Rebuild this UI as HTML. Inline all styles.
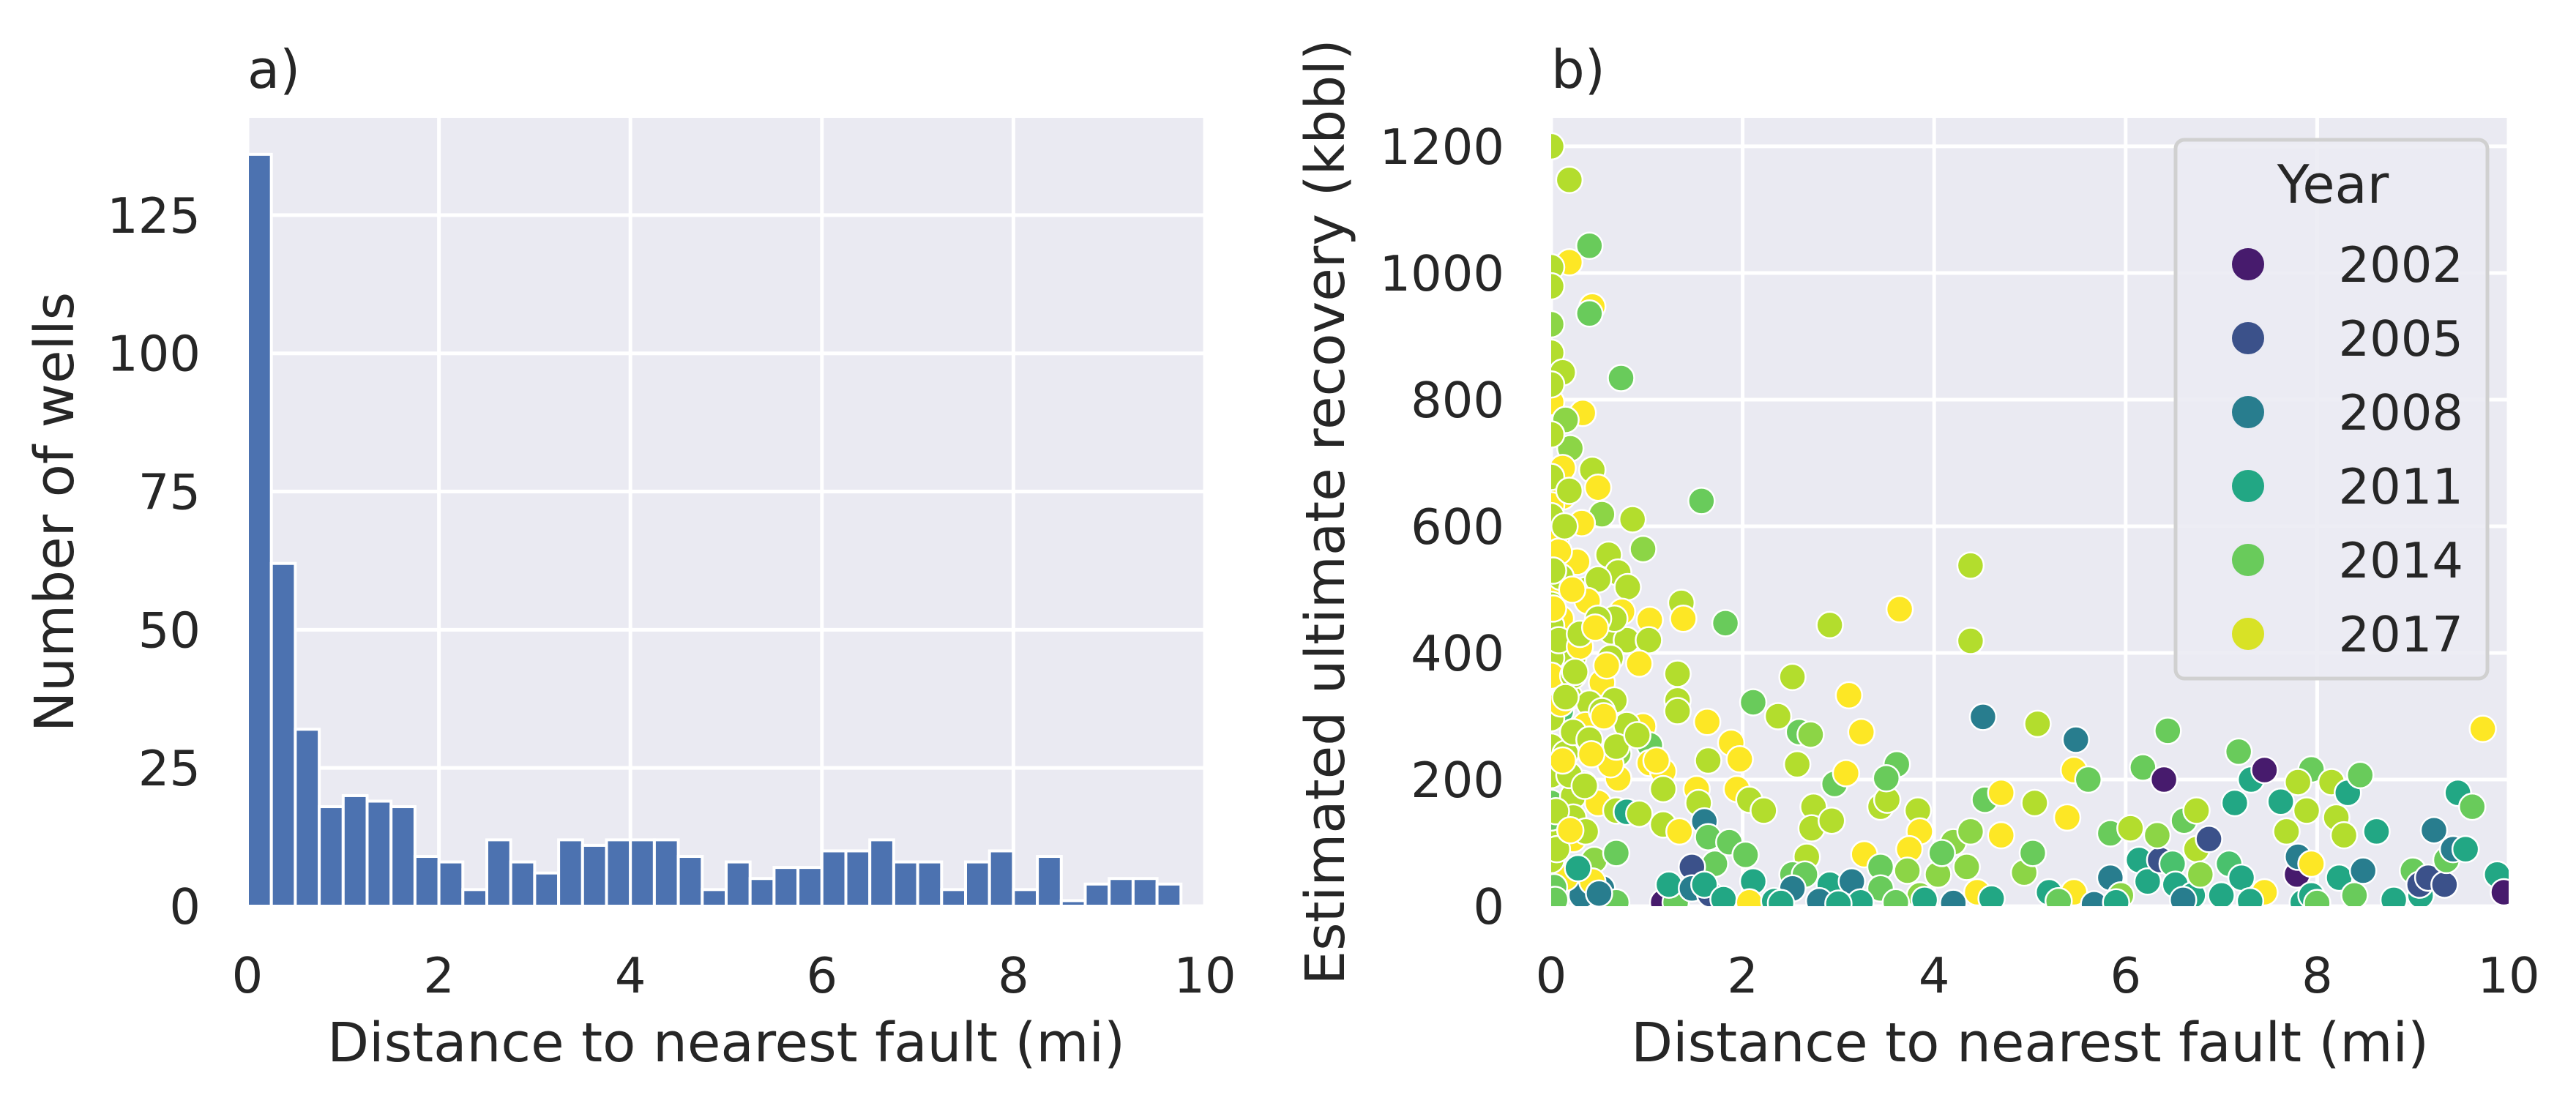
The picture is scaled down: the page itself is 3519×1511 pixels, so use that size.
<!DOCTYPE html>
<html><head><meta charset="utf-8"><style>
html,body{margin:0;padding:0;background:#fff;}
svg{display:block;}
text{font-family:"DejaVu Sans","Liberation Sans",sans-serif;fill:#262626;}
</style></head><body>
<svg id="fig" width="3519" height="1511" viewBox="0 0 3519 1511" xmlns="http://www.w3.org/2000/svg">
<g id="panelA"></g>
<g id="panelB"></g>
</svg>
<script>
// ---- Histogram data ----
const binWidth = 0.25;
const histCounts = [136,62,32,18,20,19,18,9,8,3,12,8,6,12,11,12,12,12,9,3,8,5,7,7,10,10,12,8,8,3,8,10,3,9,1,4,5,5,4];
const histYTicks = [0,25,50,75,100,125];
const xTicks = [0,2,4,6,8,10];
// ---- Scatter data (lines of 10, aligned across arrays) ----
const dist = [
0,0.19,0.4,0.19,0,0,0.43,0.40,0,0,
0.12,0.73,0,0.33,0.15,0.2,0.12,0.43,0.49,0.12,
0,0.53,0.32,0.85,1.57,0.96,0,0.27,0.6,0.36,
0.7,0.49,0.8,0.38,0.1,0,0.74,0.63,1.03,1.36,
1.38,1.82,2.91,3.64,4.38,4.38,0.79,1.02,0.92,0.23,
0,0,0.53,0.19,0.66,0.4,1.32,1.32,1.32,0.96,
1.63,0.36,0.1,2.52,2.11,2.37,3.11,3.24,2.59,2.71,
1.88,1.97,1.64,0.7,1.03,1.03,1.17,0.7,0.62,0.34,
0,0,0.23,0.49,0.68,0.79,0.92,1.17,1.17,1.34,
1.52,1.54,1.6,1.64,1.71,1.86,1.94,2.07,2.22,2.03,
2.11,2.57,2.96,3.08,2.74,2.72,2.67,2.93,2.52,2.65,
2.52,2.91,3.14,3.27,3.44,3.44,3.23,3.44,3.51,3.61,
3.5,3.83,3.85,3.74,3.72,3.85,4.04,4.2,4.08,4.38,
4.34,4.45,4.51,4.53,4.7,4.7,4.94,5.03,5.05,5.08,
5.2,5.46,5.39,5.46,5.48,5.61,5.67,5.84,5.84,5.95,
6.05,6.14,6.18,6.23,6.4,6.36,6.33,6.44,6.49,6.52,
6.61,6.7,6.74,6.74,6.78,6.87,7.0,7.08,7.14,7.21,
7.18,7.31,7.45,7.45,7.62,7.68,7.79,7.8,7.85,7.94,
7.94,7.8,7.89,7.94,8.15,8.2,8.28,8.32,8.23,8.39,
8.45,8.48,8.62,9.0,9.08,9.07,9.16,9.22,9.33,9.35,
9.47,9.42,9.55,9.62,9.73,9.88,9.95,1.17,1.3,1.23,
1.47,1.47,1.66,1.6,1.8,2.07,2.33,0.32,0.53,0.45,
0.68,0.68,0.15,0.43,0,0,0,0.23,0,0.23,
0,0.15,0,0.23,0.1,0.23,0,0,0,0,
0.19,0,0,0,0.66,0.49,0.62,0.53,0.79,0.68,
0.4,0.19,0.36,0.05,0.1,0.02,0.08,0.3,0.25,0.12,
0.05,0.42,0.35,0.55,0.9,1.1,0.03,0.06,0.2,0.28,
0.5,0.15,0.04,2.4,2.8,3.0,3.6,3.9,4.2,4.6,
5.3,5.9,6.6,7.3,8.0,8.8,0.08,0.14,0.22,0.3,
0.58,0.02,0.46];
const eur = [
1200,1147,1043,1017,1009,979,947,936,919,874,
843,834,796,779,768,723,692,689,661,647,
633,619,605,611,640,564,544,544,555,499,
527,516,504,482,454,443,465,434,452,479,
454,447,444,469,538,419,420,420,383,392,
392,364,353,331,325,320,367,325,308,284,
291,286,308,362,322,300,333,275,275,271,
258,232,230,241,254,226,213,202,224,193,
207,163,174,163,151,149,146,185,129,118,
185,163,134,109,67,101,185,168,151,81,
39,224,193,210,157,123,78,135,50,50,
28,34,39,82,62,28,6,157,168,224,
202,151,118,90,56,17,50,101,84,118,
62,22,299,168,179,112,53,84,163,288,
22,22,140,215,263,200,3,45,115,17,
123,73,219,39,200,73,112,277,67,34,
135,17,151,90,50,106,17,67,163,45,
244,200,215,22,165,118,50,78,6,67,
216,196,151,17,196,140,112,179,45,17,
207,56,118,56,17,34,45,120,34,73,
179,90,90,157,280,50,22,6,6,34,
62,28,19,34,11,6,8,17,28,73,
84,6,45,39,6,73,106,106,140,140,
252,241,297,275,320,364,499,476,616,678,
656,745,824,566,454,454,392,308,286,252,
263,207,118,580,520,470,420,410,370,230,
150,240,190,300,270,230,30,90,120,60,
20,330,10,5,8,4,6,10,5,12,
8,6,10,8,5,10,560,600,500,430,
380,530,440];
const year = [
2016,2016,2014,2018,2016,2016,2018,2014,2015,2016,
2016,2014,2018,2018,2015,2015,2018,2016,2018,2018,
2018,2015,2018,2016,2014,2015,2016,2018,2016,2016,
2016,2016,2016,2018,2018,2016,2018,2016,2018,2016,
2018,2014,2016,2018,2016,2016,2016,2016,2018,2016,
2016,2018,2018,2016,2016,2016,2016,2016,2016,2018,
2018,2018,2013,2016,2014,2016,2018,2018,2014,2015,
2018,2018,2016,2015,2014,2018,2018,2018,2018,2008,
2016,2014,2016,2018,2016,2011,2016,2016,2016,2018,
2018,2016,2008,2014,2014,2014,2018,2016,2016,2014,
2011,2016,2014,2018,2016,2016,2016,2016,2014,2014,
2008,2011,2008,2018,2014,2014,2011,2016,2016,2014,
2014,2016,2018,2018,2015,2015,2015,2015,2014,2015,
2015,2018,2008,2014,2018,2018,2015,2014,2016,2016,
2011,2018,2018,2018,2008,2014,2008,2008,2014,2015,
2016,2011,2014,2011,2002,2005,2015,2014,2013,2011,
2014,2011,2016,2016,2015,2005,2011,2013,2011,2011,
2014,2011,2002,2018,2011,2016,2002,2008,2011,2018,
2014,2016,2016,2011,2016,2016,2016,2011,2011,2014,
2014,2008,2011,2014,2011,2005,2005,2008,2005,2014,
2011,2008,2011,2014,2018,2011,2002,2002,2014,2011,
2005,2008,2005,2011,2011,2018,2011,2008,2008,2015,
2014,2014,2018,2018,2016,2016,2016,2018,2014,2016,
2016,2016,2016,2016,2018,2016,2018,2016,2016,2016,
2016,2016,2016,2016,2016,2016,2016,2016,2016,2016,
2016,2016,2016,2018,2016,2018,2016,2018,2016,2018,
2016,2018,2016,2018,2016,2018,2014,2016,2018,2011,
2008,2016,2014,2011,2008,2011,2014,2011,2008,2011,
2014,2011,2008,2011,2014,2011,2018,2016,2018,2016,
2018,2016,2018];
const eurYTicks = [0,200,400,600,800,1000,1200];
const legendYears = [2002,2005,2008,2011,2014,2017];

const NS = "http://www.w3.org/2000/svg";
function mk(tag, attrs, parent){const e=document.createElementNS(NS,tag);for(const k in attrs)e.setAttribute(k,attrs[k]);parent.appendChild(e);return e;}
const viridisStops=["#440154","#482475","#414487","#355f8d","#2a788e","#21918c","#22a884","#44bf70","#7ad151","#bddf26","#fde725"];
function hex2rgb(h){return [1,3,5].map(i=>parseInt(h.substr(i,2),16));}
function viridis(t){t=Math.max(0,Math.min(1,t));const p=t*10,i=Math.min(9,Math.floor(p)),f=p-i;const a=hex2rgb(viridisStops[i]),b=hex2rgb(viridisStops[i+1]);return "rgb("+a.map((v,k)=>Math.round(v+(b[k]-v)*f)).join(",")+")";}
function yearColor(y){return viridis((y-2000.7)/(2018.0-2000.7));}

const T=161,B=1238,H=B-T;
function drawAxes(g,L,R,ymax,yticks,title,ylabel,ylx){
  const W=R-L;
  const sx=v=>L+v/10*W, sy=v=>B-v/ymax*H;
  const bg=mk('rect',{x:L,y:T,width:W,height:H,fill:'#eaeaf2'},g);
  
  xTicks.forEach(v=>{const l=mk('line',{x1:sx(v),x2:sx(v),y1:T,y2:B,stroke:'#fff','stroke-width':5},g);
    
    const t=mk('text',{x:sx(v),y:1356,'font-size':67,'text-anchor':'middle'},g);t.textContent=v;
    });
  yticks.forEach(v=>{const l=mk('line',{x1:L,x2:R,y1:sy(v),y2:sy(v),stroke:'#fff','stroke-width':5},g);
    
    const t=mk('text',{x:L-64,y:sy(v)+24,'font-size':67,'text-anchor':'end'},g);t.textContent=v;
    });
  const tt=mk('text',{x:L,y:120,'font-size':72},g);tt.textContent=title;
  
  const xl=mk('text',{x:(L+R)/2,y:1450,'font-size':74,'text-anchor':'middle'},g);xl.textContent='Distance to nearest fault (mi)';
  
  const yl=mk('text',{x:0,y:0,'font-size':74,'text-anchor':'middle',transform:`translate(${ylx},${(T+B)/2}) rotate(-90)`},g);yl.textContent=ylabel;
  
  return {sx,sy};
}
// Panel A
const gA=document.getElementById('panelA');
const A=drawAxes(gA,338,1646,142.6,histYTicks,'a)','Number of wells',100);
const barsG=mk('g',{},gA);
histCounts.forEach((c,i)=>{
  const x0=A.sx(i*binWidth),x1=A.sx((i+1)*binWidth);
  const r=mk('rect',{x:x0,y:A.sy(c),width:x1-x0,height:B-A.sy(c),fill:'#4c72b0',stroke:'#fff','stroke-width':4},barsG);
  
  
});
// Panel B
const gB=document.getElementById('panelB');
const Bx=drawAxes(gB,2119,3427,1245,eurYTicks,'b)','Estimated ultimate recovery (kbbl)',1836);
const cp=mk('clipPath',{id:'clipB'},gB);
mk('rect',{x:2119,y:T-40,width:1308,height:H+40},cp);
const ptsG=mk('g',{'clip-path':'url(#clipB)'},gB);
dist.forEach((d,i)=>{
  const c=mk('circle',{cx:Bx.sx(d),cy:Bx.sy(eur[i]),r:18,fill:yearColor(year[i]),stroke:'#fff','stroke-width':2.5},ptsG);
  
  
});
// Legend
const lg=mk('g',{},gB);


mk('rect',{x:2972,y:191,width:426,height:736,rx:12,fill:'#ebebf3','fill-opacity':0.9,stroke:'#d0d0d0','stroke-width':5},lg);
const lt=mk('text',{x:3187,y:277,'font-size':72,'text-anchor':'middle'},lg);lt.textContent='Year';

legendYears.forEach((y,i)=>{
  const cy=361+i*101;
  const m=mk('circle',{cx:3071,cy:cy,r:22,fill:yearColor(y)},lg);
  
  const t=mk('text',{x:3365,y:cy+24,'font-size':67,'text-anchor':'end'},lg);t.textContent=y;
  
});
</script>
</body></html>
